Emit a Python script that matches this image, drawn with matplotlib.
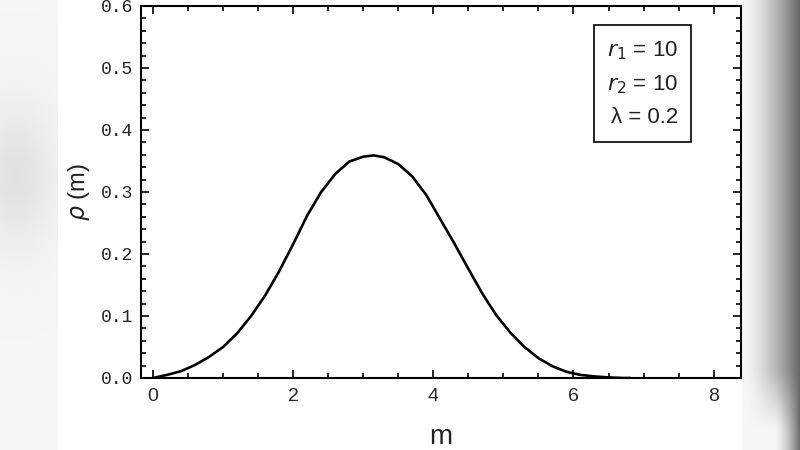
import numpy as np
import matplotlib
matplotlib.use('Agg')
import matplotlib.pyplot as plt
from matplotlib.ticker import MultipleLocator, FormatStrFormatter

# values
m_vals = [0.0, 0.2, 0.4, 0.6, 0.8, 1.0, 1.2, 1.4, 1.6, 1.8, 2.0, 2.2, 2.4,
          2.6, 2.8, 3.0, 3.15, 3.3, 3.5, 3.7, 3.9, 4.1, 4.3, 4.5, 4.7, 4.9,
          5.1, 5.3, 5.5, 5.7, 5.9, 6.1, 6.3, 6.5, 6.7, 6.8]
rho_vals = [0.0, 0.005, 0.011, 0.021, 0.034, 0.050, 0.072, 0.100, 0.133, 0.172,
            0.216, 0.262, 0.300, 0.329, 0.349, 0.357, 0.359, 0.356, 0.345, 0.325,
            0.295, 0.256, 0.217, 0.176, 0.136, 0.101, 0.073, 0.050, 0.032, 0.019,
            0.010, 0.005, 0.0025, 0.001, 0.0, 0.0]

params = ['$r_1$ = 10', '$r_2$ = 10', 'λ = 0.2']

fig = plt.figure(figsize=(8, 4.5), dpi=100)

# blurred grey page edges behind the white plot area
bg = fig.add_axes([0, 0, 1, 1], zorder=-10)
W, H = 800, 450
xx, yy = np.meshgrid(np.arange(W), np.arange(H))
img = np.ones((H, W))
left = xx < 58
blob = np.exp(-(((xx - 15) / 40.0) ** 2 + ((yy - 175) / 70.0) ** 2))
img[left] = (0.965 - 0.08 * blob)[left]
right = xx >= 742
t = np.clip((xx - 742) / 58.0, 0, 1)
shade = 0.97 - 0.58 * t ** 1.5
fade = np.clip((yy - 370) / 60.0, 0, 1)
shade = shade + (0.97 - shade) * fade * np.clip(1 - (xx - 775) / 25.0, 0, 1)
img[right] = shade[right]
bg.imshow(np.dstack([img, img, img]), aspect='auto', extent=[0, 1, 0, 1])
bg.axis('off')

ax = fig.add_axes([141 / 800, 1 - 378 / 450, 600 / 800, 372 / 450])
ax.plot(m_vals, rho_vals, color='black', lw=1.9, solid_joinstyle='round')

ax.set_xlim(-0.171, 8.39)
ax.set_ylim(0, 0.6)
ax.xaxis.set_major_locator(MultipleLocator(2))
ax.xaxis.set_minor_locator(MultipleLocator(0.5))
ax.yaxis.set_major_locator(MultipleLocator(0.1))
ax.yaxis.set_minor_locator(MultipleLocator(0.02))
ax.yaxis.set_major_formatter(FormatStrFormatter('%.1f'))

ax.tick_params(which='both', direction='in', top=True, right=True, width=1.2,
               color='black')
ax.tick_params(which='major', length=6)
ax.tick_params(which='minor', length=3.5)
ax.tick_params(axis='y', labelsize=13, labelcolor='#222222', pad=6)
ax.tick_params(axis='x', labelsize=14, labelcolor='#2a2a2a', pad=7)
for lab in ax.get_yticklabels():
    lab.set_family('Liberation Mono')
for lab in ax.get_xticklabels():
    lab.set_family('Liberation Sans')
for s in ax.spines.values():
    s.set_linewidth(1.5)

ax.set_xlabel('m', fontsize=20, family='Liberation Sans', color='#222222',
              labelpad=14)
ax.set_ylabel('$\\rho$ (m)', fontsize=17, family='Liberation Sans',
              color='#222222', labelpad=6)

ax.text(0.895, 0.911, '\n'.join(params), transform=ax.transAxes,
        ha='right', va='top', fontsize=16, family='Liberation Sans',
        linespacing=1.7, color='#222222',
        bbox=dict(boxstyle='square,pad=0.6', fc='white', ec='black', lw=1.2))

fig.savefig('out.png', dpi=100)
